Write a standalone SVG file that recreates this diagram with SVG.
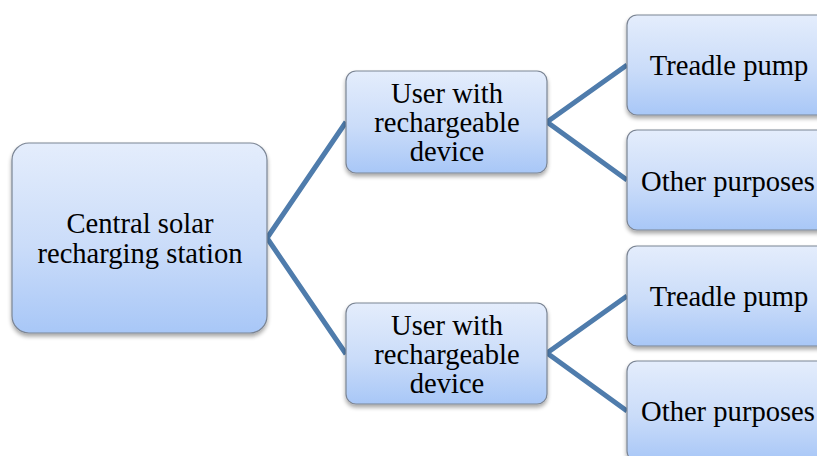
<svg xmlns="http://www.w3.org/2000/svg" width="817" height="456" viewBox="0 0 817 456">
  <defs>
    <linearGradient id="boxFill" x1="0" y1="0" x2="0" y2="1">
      <stop offset="0" stop-color="#e4edfc"/>
      <stop offset="0.55" stop-color="#cadcf9"/>
      <stop offset="1" stop-color="#a8c7f7"/>
    </linearGradient>
    <filter id="shadow" x="-10%" y="-10%" width="120%" height="130%">
      <feGaussianBlur in="SourceAlpha" stdDeviation="2"/>
      <feOffset dx="0" dy="3" result="b"/>
      <feComponentTransfer><feFuncA type="linear" slope="0.35"/></feComponentTransfer>
      <feMerge><feMergeNode/><feMergeNode in="SourceGraphic"/></feMerge>
    </filter>
  </defs>
  <style>
    .box { fill: url(#boxFill); stroke: #7b8594; stroke-width: 1.2; filter: url(#shadow); }
    .label { font-family: "Liberation Serif", "Times New Roman", serif; font-size: 28.6px; fill: #000; text-anchor: middle; }
    .link { stroke: #4f7cac; stroke-width: 5; fill: none; stroke-linejoin: miter; }
  </style>

  <!-- connectors -->
  <g id="connectors">
    <polyline class="link" points="346,122 267,238 346,354"/>
    <polyline class="link" points="627,65 547,122 627,180"/>
    <polyline class="link" points="627,296 547,353 627,411"/>
  </g>

  <g id="central">
    <rect class="box" x="12" y="143" width="255" height="190" rx="17"/>
    <text class="label" x="140" y="233">Central solar</text>
    <text class="label" x="140" y="263">recharging station</text>
  </g>

  <g id="user1">
    <rect class="box" x="346" y="71" width="201" height="102" rx="10"/>
    <text class="label" x="447" y="103">User with</text>
    <text class="label" x="447" y="132">rechargeable</text>
    <text class="label" x="447" y="161">device</text>
  </g>

  <g id="user2">
    <rect class="box" x="346" y="303" width="201" height="101" rx="10"/>
    <text class="label" x="447" y="335">User with</text>
    <text class="label" x="447" y="364">rechargeable</text>
    <text class="label" x="447" y="393">device</text>
  </g>

  <g id="pump1">
    <rect class="box" x="627" y="15" width="204" height="100" rx="10"/>
    <text class="label" x="729" y="75">Treadle pump</text>
  </g>

  <g id="other1">
    <rect class="box" x="627" y="130" width="204" height="100" rx="10"/>
    <text class="label" x="728" y="191">Other purposes</text>
  </g>

  <g id="pump2">
    <rect class="box" x="627" y="246" width="204" height="100" rx="10"/>
    <text class="label" x="729" y="306">Treadle pump</text>
  </g>

  <g id="other2">
    <rect class="box" x="627" y="361" width="204" height="100" rx="10"/>
    <text class="label" x="728" y="421">Other purposes</text>
  </g>
</svg>
